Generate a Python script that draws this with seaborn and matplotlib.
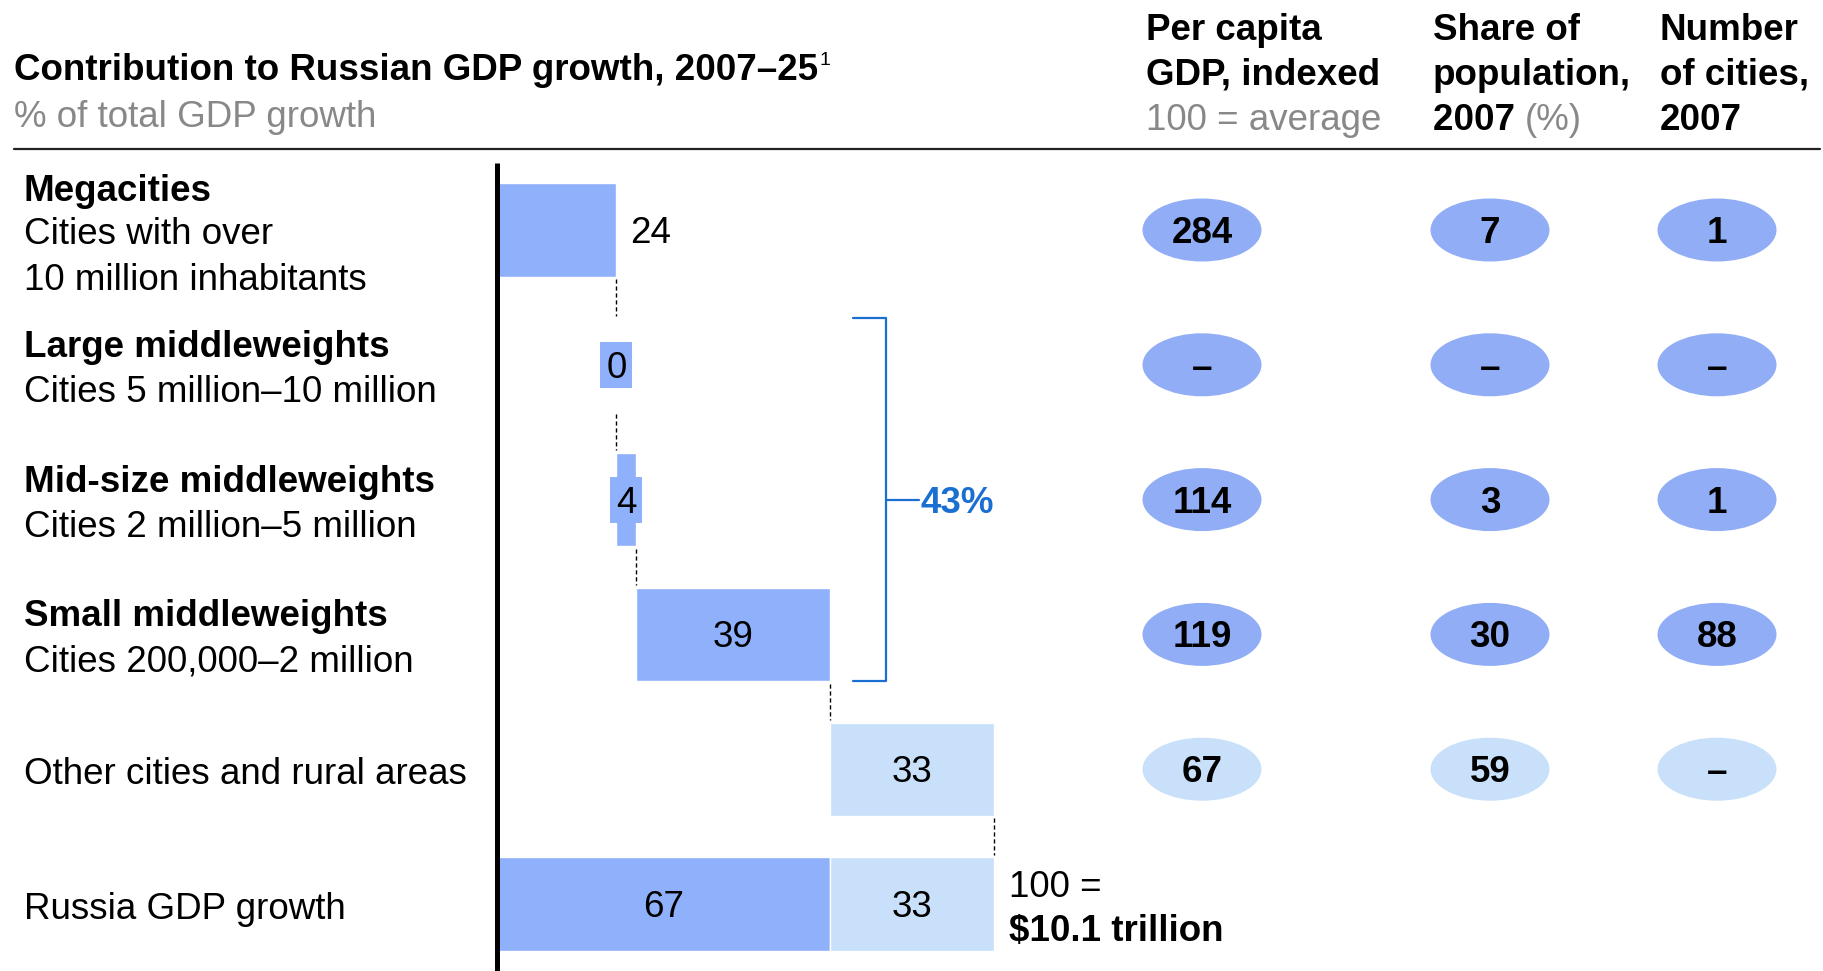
import matplotlib
matplotlib.use('Agg')
import matplotlib.pyplot as plt
import seaborn as sns
from matplotlib.patches import Ellipse, Rectangle

sns.set_theme(style='white')
plt.rcParams['font.family'] = ['Liberation Sans', 'DejaVu Sans']
plt.rcParams['text.color'] = 'black'

# Data
rows = ['Megacities', 'Large middleweights', 'Mid-size middleweights',
        'Small middleweights', 'Other cities and rural areas', 'Russia GDP growth']
contribution = [24, 0, 4, 39, 33]          # % of total GDP growth
russia_split = [67, 33]                     # cities in groups vs other
per_capita = ['284', '–', '114', '119', '67']
pop_share = ['7', '–', '3', '30', '59']
n_cities = ['1', '–', '1', '88', '–']

row_names = [
    ('Megacities', ['Cities with over', '10 million inhabitants']),
    ('Large middleweights', ['Cities 5 million–10 million']),
    ('Mid-size middleweights', ['Cities 2 million–5 million']),
    ('Small middleweights', ['Cities 200,000–2 million']),
    (None, ['Other cities and rural areas']),
    (None, ['Russia GDP growth']),
]

DARK = '#8fb0fb'
DARK_OVAL = '#91adf6'
LIGHT = '#c8e0fa'
BLUE = '#1a6fd1'
GREY = '#888888'
FS = 26.5

# Layout (pixels)
W, H, DPI = 1824, 971, 100
PX_UNIT = 4.97          # pixels per % point
AXIS_X = 497
ROW0, ROW_STEP = 230, 134.8
BAR_H = 0.69
DY = 3.5                # text nudge down (px)
DYR = DY / ROW_STEP


def fx(p):
    return p / W


def fy(p):
    return 1 - (p + DY) / H


fig = plt.figure(figsize=(W / DPI, H / DPI), dpi=DPI)
ax = fig.add_axes([0, 0, 1, 1])

# Waterfall segments
starts = [0]
for v in contribution[:-1]:
    starts.append(starts[-1] + v)
ends = [s + v for s, v in zip(starts, contribution)]

dark_rows = [rows[i] for i in range(4) if contribution[i] > 0] + [rows[5]]
dark_vals = [contribution[i] for i in range(4) if contribution[i] > 0] + [russia_split[0]]
dark_starts = [starts[i] for i in range(4) if contribution[i] > 0] + [0]

light_rows = [rows[4], rows[5]]
light_vals = [contribution[4], russia_split[1]]
light_starts = [starts[4], russia_split[0]]

for names, vals, lefts, col in [(dark_rows, dark_vals, dark_starts, DARK),
                                (light_rows, light_vals, light_starts, LIGHT)]:
    n0 = len(ax.patches)
    sns.barplot(x=vals, y=names, order=rows, orient='h', color=col,
                saturation=1, width=BAR_H, errorbar=None,
                edgecolor='white', linewidth=1, ax=ax)
    for patch, left in zip(ax.patches[n0:], lefts):
        patch.set_x(left)

ax.set_xlim(-AXIS_X / PX_UNIT, (W - AXIS_X) / PX_UNIT)
ax.set_ylim((H - ROW0) / ROW_STEP, -ROW0 / ROW_STEP)
ax.axis('off')

# Vertical baseline
ax.plot([0, 0], [(163 - ROW0) / ROW_STEP, (H - ROW0) / ROW_STEP + 0.1],
        color='black', lw=3.6, solid_capstyle='butt', zorder=5)

# Value labels
ax.text(ends[0] + 2.8, 0 + DYR, str(contribution[0]), ha='left', va='center', fontsize=FS)
for i, cx in [(1, ends[1]), (2, starts[2] + contribution[2] / 2)]:
    ax.add_patch(Rectangle((cx - 3.2, i - 0.17), 6.4, 0.34,
                           facecolor=DARK, edgecolor='none', zorder=3))
    ax.text(cx, i + DYR, str(contribution[i]), ha='center', va='center',
            fontsize=FS, zorder=4)
for i in [3, 4]:
    ax.text(starts[i] + contribution[i] / 2, i + DYR, str(contribution[i]),
            ha='center', va='center', fontsize=FS)
ax.text(russia_split[0] / 2, 5 + DYR, str(russia_split[0]), ha='center', va='center', fontsize=FS)
ax.text(russia_split[0] + russia_split[1] / 2, 5 + DYR, str(russia_split[1]),
        ha='center', va='center', fontsize=FS)
ax.text(103, 5 + (DY - 20) / ROW_STEP, '100 =', ha='left', va='center', fontsize=FS)
ax.text(103, 5 + (DY + 24) / ROW_STEP, '$10.1 trillion', ha='left', va='center',
        fontsize=FS, fontweight='bold')

# Dashed connectors
for i in range(5):
    ax.plot([ends[i], ends[i]], [i + BAR_H / 2 + 0.02, i + 1 - BAR_H / 2 - 0.02],
            color='black', lw=1, dashes=(3, 2))

# Bracket around middleweights
b_top, b_bot = 1 - BAR_H / 2, 3 + BAR_H / 2
ax.plot([71.6, 78.3, 78.3, 71.6], [b_top, b_top, b_bot, b_bot], color=BLUE, lw=1.6)
ax.plot([78.3, 84.9], [2, 2], color=BLUE, lw=1.6)
ax.text(85.3, 2 + DYR, f'{sum(contribution[1:4])}%', ha='left', va='center',
        fontsize=FS, fontweight='bold', color=BLUE)

# Ovals on the right
col_x = [(1202 - AXIS_X) / PX_UNIT, (1490 - AXIS_X) / PX_UNIT, (1717 - AXIS_X) / PX_UNIT]
for cx, vals in zip(col_x, [per_capita, pop_share, n_cities]):
    for i, v in enumerate(vals):
        ax.add_patch(Ellipse((cx, i), 119 / PX_UNIT, 63 / ROW_STEP,
                             facecolor=LIGHT if i == 4 else DARK_OVAL, edgecolor='none'))
        ax.text(cx, i + DYR, v, ha='center', va='center', fontsize=FS, fontweight='bold')

# Row labels
for i, (bold, lines) in enumerate(row_names):
    yc = ROW0 + ROW_STEP * i
    if i == 0:
        ys = [yc - 42, yc + 1, yc + 47]
    elif bold:
        ys = [yc - 21, yc + 24]
    else:
        ys = [yc + 2]
    texts = ([bold] if bold else []) + lines
    for k, (t, y) in enumerate(zip(texts, ys)):
        fig.text(fx(24), fy(y), t, ha='left', va='center', fontsize=FS,
                 fontweight='bold' if (bold and k == 0) else 'normal')

# Header
title = fig.text(fx(14), fy(67), 'Contribution to Russian GDP growth, 2007–25',
                 ha='left', va='center', fontsize=FS, fontweight='bold')
fig.text(fx(14), fy(114), '% of total GDP growth', ha='left', va='center',
         fontsize=FS, color=GREY)

fig.text(fx(1146), fy(27), 'Per capita', ha='left', va='center', fontsize=FS, fontweight='bold')
fig.text(fx(1146), fy(72), 'GDP, indexed', ha='left', va='center', fontsize=FS, fontweight='bold')
fig.text(fx(1146), fy(117), '100 = average', ha='left', va='center', fontsize=FS, color=GREY)

fig.text(fx(1433), fy(27), 'Share of', ha='left', va='center', fontsize=FS, fontweight='bold')
fig.text(fx(1433), fy(72), 'population,', ha='left', va='center', fontsize=FS, fontweight='bold')
yr = fig.text(fx(1433), fy(117), '2007 ', ha='left', va='center', fontsize=FS, fontweight='bold')

fig.text(fx(1660), fy(27), 'Number', ha='left', va='center', fontsize=FS, fontweight='bold')
fig.text(fx(1660), fy(72), 'of cities,', ha='left', va='center', fontsize=FS, fontweight='bold')
fig.text(fx(1660), fy(117), '2007', ha='left', va='center', fontsize=FS, fontweight='bold')

fig.canvas.draw()
r = fig.canvas.get_renderer()
bb = title.get_window_extent(r)
fig.text(bb.x1 / W + 0.001, fy(57), '1', ha='left', va='center', fontsize=14)
bb = yr.get_window_extent(r)
fig.text(bb.x1 / W, fy(117), '(%)', ha='left', va='center', fontsize=FS, color=GREY)

fig.add_artist(plt.Line2D([fx(14), fx(1820)], [1 - 149 / H, 1 - 149 / H], color='#222222', lw=1.6))

plt.savefig('out.png', dpi=DPI)
